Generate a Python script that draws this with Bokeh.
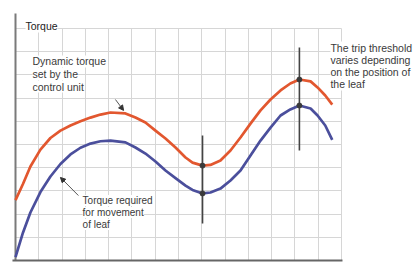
from bokeh.plotting import figure
from bokeh.models import Label, Arrow, NormalHead, SingleIntervalTicker, Range1d
from bokeh.embed import file_html
from bokeh.resources import INLINE

# leaf position (grid units) and torque values
position = [0.0, 0.32, 0.64, 1.07, 1.50, 1.93, 2.36, 2.79, 3.22, 3.65, 4.08, 4.72,
            5.15, 5.58, 6.01, 6.44, 6.87, 7.30, 7.60, 8.03, 8.37, 8.80, 9.23, 9.66,
            10.09, 10.52, 10.95, 11.38, 11.80, 12.19, 12.67, 12.97, 13.30, 13.60]
dynamic_torque = [2.60, 3.30, 4.05, 4.78, 5.28, 5.60, 5.82, 6.00, 6.16, 6.29, 6.38, 6.34,
                  6.16, 5.95, 5.60, 5.26, 4.87, 4.44, 4.22, 4.09, 4.12, 4.31, 4.74, 5.30,
                  5.90, 6.47, 6.94, 7.33, 7.63, 7.80, 7.72, 7.46, 7.11, 6.72]
required_torque = [0.15, 1.20, 2.07, 2.95, 3.62, 4.16, 4.57, 4.86, 5.04, 5.14, 5.17, 5.09,
                   4.87, 4.61, 4.27, 3.88, 3.55, 3.23, 3.04, 2.89, 2.93, 3.10, 3.45, 3.88,
                   4.53, 5.17, 5.73, 6.25, 6.51, 6.68, 6.55, 6.25, 5.82, 5.20]

# trip threshold markers
threshold_x = [8.03, 12.19]
threshold_top = [5.39, 9.18]
threshold_bottom = [1.59, 4.74]
threshold_dynamic = [4.09, 7.80]
threshold_required = [2.89, 6.68]

axis_title = "Torque"
label_dynamic = ["Dynamic torque", "set by the", "control unit"]
label_required = ["Torque required", "for movement", "of leaf"]
label_trip = ["The trip threshold", "varies depending", "on the position of", "the leaf"]

RED = "#e2572f"
BLUE = "#4b4f9c"
TXT = "#3a3a3a"
FONT = "Liberation Sans"

PX_X = 23.29   # pixels per grid unit
PX_Y = 23.2

p = figure(width=414, height=264, output_backend="svg", toolbar_location=None,
           x_range=Range1d(-15 / PX_X, (414 - 15) / PX_X),
           y_range=Range1d(-4 / PX_Y, 260 / PX_Y),
           min_border_left=0, min_border_right=0, min_border_top=0, min_border_bottom=0)
p.axis.visible = False
p.outline_line_color = None
p.background_fill_color = "white"
p.border_fill_color = "white"
p.xgrid.ticker = SingleIntervalTicker(interval=1)
p.ygrid.ticker = SingleIntervalTicker(interval=1)
p.xgrid.bounds = (1, 14)
p.xgrid.cross_bounds = (0, 10)
p.ygrid.bounds = (1, 10)
p.ygrid.cross_bounds = (0, 14)
p.grid.grid_line_color = "#d6d6d6"
p.grid.grid_line_width = 1

# axis lines
p.segment(x0=[0, -0.13], y0=[0, 0], x1=[0, 14.04], y1=[10.65, 0],
          line_color=["#7a7a7a", "#666666"], line_width=2)

p.line(position, dynamic_torque, line_color=RED, line_width=2.7, line_join="round")
p.line(position, required_torque, line_color=BLUE, line_width=2.7, line_join="round")

p.segment(x0=threshold_x, y0=threshold_bottom, x1=threshold_x, y1=threshold_top,
          line_color="#444444", line_width=1.6)
p.scatter(threshold_x, threshold_dynamic, size=5, color="#3a3a3a")
p.scatter(threshold_x, threshold_required, size=5, color="#3a3a3a")

def add_label(text, x, y, size="10px", color=TXT):
    p.add_layout(Label(x=x, y=y, text=text, text_font=FONT, text_font_size=size,
                       text_color=color, text_baseline="middle",
                       background_fill_color="white"))

add_label(axis_title, 0.43, 10.09, size="10.5px", color="#222222")
for i, t in enumerate(label_dynamic):
    add_label(t, 0.73, 8.58 - 0.54 * i, size="10.5px")
for i, t in enumerate(label_required):
    add_label(t, 2.88, 2.59 - 0.52 * i)
for i, t in enumerate(label_trip):
    add_label(t, 13.52, 9.18 - 0.53 * i, size="10.5px")

p.add_layout(Arrow(x_start=4.29, y_start=6.94, x_end=4.64, y_end=6.47,
                   line_color="#555555", line_width=1,
                   end=NormalHead(size=5, fill_color="#333333", line_color="#333333")))
p.add_layout(Arrow(x_start=2.70, y_start=2.80, x_end=1.93, y_end=3.58,
                   line_color="#555555", line_width=1,
                   end=NormalHead(size=5, fill_color="#333333", line_color="#333333")))

open("out.html", "w").write(file_html(p, INLINE))
